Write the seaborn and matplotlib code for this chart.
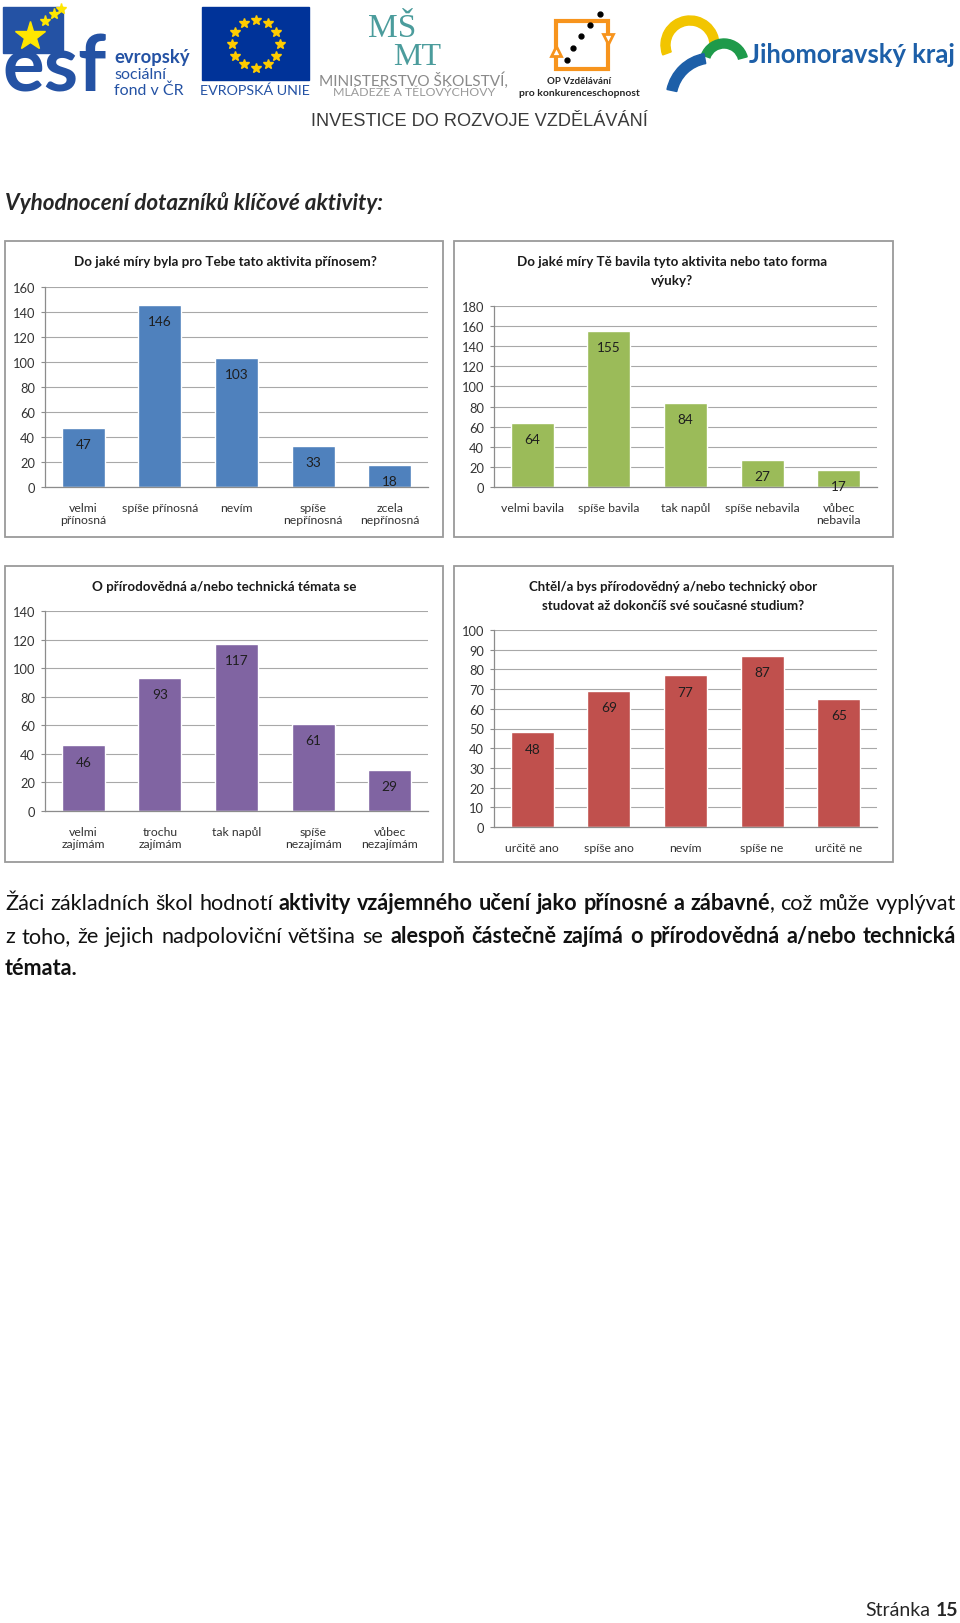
import matplotlib
matplotlib.use("Agg")
import numpy as np
import pandas as pd
import seaborn as sns
import matplotlib.pyplot as plt
from matplotlib.patches import Rectangle, Wedge

# chart data
q1_title = ["Do jaké míry byla pro Tebe tato aktivita přínosem?"]
q1_cats = ["velmi\npřínosná", "spíše přínosná", "nevím", "spíše\nnepřínosná", "zcela\nnepřínosná"]
q1_vals = [47, 146, 103, 33, 18]

q2_title = ["Do jaké míry Tě bavila tyto aktivita nebo tato forma", "výuky?"]
q2_cats = ["velmi bavila", "spíše bavila", "tak napůl", "spíše nebavila", "vůbec\nnebavila"]
q2_vals = [64, 155, 84, 27, 17]

q3_title = ["O přírodovědná a/nebo technická témata se"]
q3_cats = ["velmi\nzajímám", "trochu\nzajímám", "tak napůl", "spíše\nnezajímám", "vůbec\nnezajímám"]
q3_vals = [46, 93, 117, 61, 29]

q4_title = ["Chtěl/a bys přírodovědný a/nebo technický obor", "studovat až dokončíš své současné studium?"]
q4_cats = ["určitě ano", "spíše ano", "nevím", "spíše ne", "určitě ne"]
q4_vals = [48, 69, 77, 87, 65]

# page text
heading = "Vyhodnocení dotazníků klíčové aktivity:"
para_line1 = [("Žáci základních škol hodnotí ", "normal"),
              ("aktivity vzájemného učení jako přínosné a zábavné", "bold"),
              (", což může vyplývat", "normal")]
para_line2 = [("z toho, že jejich nadpoloviční většina se ", "normal"),
              ("alespoň částečně zajímá o přírodovědná a/nebo technická", "bold")]
para_line3 = [("témata.", "bold")]

sns.set_style("white")
plt.rcParams["font.family"] = ["Lato", "DejaVu Sans"]

W, H = 960, 1624
fig = plt.figure(figsize=(W / 100, H / 100), dpi=100)
bg = fig.add_axes([0, 0, 1, 1], zorder=0)
bg.set_xlim(0, W)
bg.set_ylim(H, 0)
bg.axis("off")
renderer = fig.canvas.get_renderer()


def text_width(s, fs, **kw):
    t = bg.text(0, 0, s, fontsize=fs, **kw)
    w = t.get_window_extent(renderer).width
    t.remove()
    return w


def fit(s, x, y, width, **kw):
    # scale font so the text takes the given pixel width
    w = text_width(s, 10, **kw)
    return bg.text(x, y, s, fontsize=10 * width / w, **kw)


def frac(x0, y0, x1, y1):
    return [x0 / W, 1 - y1 / H, (x1 - x0) / W, (y1 - y0) / H]


# ---- header logos (rough) ----
esf_blue = "#2452A4"
bg.add_patch(Rectangle((3, 8), 60, 46, color=esf_blue, zorder=1))
bg.plot([30], [37], marker="*", ms=22, color="#FFE600", zorder=3)
bg.plot([45, 54, 61], [22, 15, 10], ls="none", marker="*", ms=8, color="#FFE600", zorder=3)
fit("esf", 2, 70, 105, fontweight="bold", color=esf_blue, va="center", zorder=2)
fit("evropský", 114, 57, 76, fontweight="bold", color=esf_blue, va="center")
fit("sociální", 114, 75, 52, color=esf_blue, va="center")
fit("fond v ČR", 114, 91, 70, color=esf_blue, va="center")

bg.add_patch(Rectangle((202, 8), 107, 73, color="#003399"))
ang = np.linspace(0, 2 * np.pi, 13)[:-1]
bg.plot(255.5 + 24 * np.cos(ang), 44.5 + 24 * np.sin(ang), ls="none", marker="*", ms=7, color="#FFCC00")
fit("EVROPSKÁ UNIE", 255, 91, 110, color=esf_blue, ha="center", va="center")

teal = "#4B9C9C"
bg.text(368, 37, "MŠ", fontsize=24, family=["Liberation Serif"], color=teal, va="baseline")
bg.text(393, 65, "MT", fontsize=23, family=["Liberation Serif"], color=teal, va="baseline")
fit("MINISTERSTVO ŠKOLSTVÍ,", 413, 81, 187, color="#8A8A8A", ha="center", va="center")
fit("MLÁDEŽE A TĚLOVÝCHOVY", 414, 93, 161, color="#9A9A9A", ha="center", va="center")

bg.add_patch(Rectangle((556, 22), 52, 48, fill=False, ec="#F7941D", lw=3))
bg.plot([556], [52], marker="^", ms=7, mfc="white", mec="#F7941D", mew=2)
bg.plot([608], [40], marker="v", ms=7, mfc="white", mec="#F7941D", mew=2)
bg.plot([567, 573, 581, 590, 600], [61, 49, 37, 26, 15], ls="none", marker="o", ms=3.5, color="black")
fit("OP Vzdělávání", 579, 81, 64, fontweight="bold", ha="center", va="center")
fit("pro konkurenceschopnost", 579, 93, 121, fontweight="bold", ha="center", va="center")

bg.add_patch(Wedge((690, 46), 29, 160, 360, width=9, color="#F2C500"))
bg.add_patch(Wedge((724, 64), 24, -160, -15, width=9, color="#1E9A4A"))
bg.add_patch(Wedge((712, 100), 46, -168, -100, width=10, color="#1D5FA8"))
fit("Jihomoravský kraj", 749, 55, 207, fontweight="bold", color="#1D5FA8", va="center")

fit("INVESTICE DO ROZVOJE VZDĚLÁVÁNÍ", 479, 122, 337, family=["Liberation Sans"],
    color="#3A3A3A", ha="center", va="center")

fit(heading, 5, 203, 378, fontweight="bold", fontstyle="italic", va="center")


# ---- charts ----
def draw_chart(box, area, title_lines, title_y, title_cx, title_w, cats, vals, color, ymax, step):
    bg.add_patch(Rectangle((box[0], box[1]), box[2] - box[0], box[3] - box[1],
                           fill=False, ec="#9A9A9A", lw=1.3))
    w1 = text_width(title_lines[0], 10, fontweight="bold")
    fs = 10 * title_w / w1
    for i, line in enumerate(title_lines):
        bg.text(title_cx, title_y + i * 19, line, fontsize=fs, fontweight="bold",
                color="#1A1A1A", ha="center", va="center")

    ax = fig.add_axes(frac(*area), zorder=2)
    df = pd.DataFrame({"cat": cats, "val": vals})
    sns.barplot(data=df, x="cat", y="val", color=color, saturation=1, width=0.56, ax=ax)
    ax.set_xlim(-0.5, len(cats) - 0.5)
    ax.set_ylim(0, ymax)
    ax.set_yticks(np.arange(0, ymax + 1, step))
    ax.set_xlabel("")
    ax.set_ylabel("")
    ax.grid(axis="y", color="#A8A8A8", lw=0.8)
    ax.set_axisbelow(True)
    for s in ["top", "right"]:
        ax.spines[s].set_visible(False)
    for s in ["left", "bottom"]:
        ax.spines[s].set_color("#8C8C8C")
        ax.spines[s].set_linewidth(0.9)
    ax.tick_params(axis="y", left=True, length=3, width=0.8, color="#8C8C8C",
                   labelsize=9.3, labelcolor="#333333", pad=4)
    ax.tick_params(axis="x", bottom=False, labelsize=8.8, labelcolor="#333333", pad=7)
    ax.patch.set_alpha(0)
    ax.bar_label(ax.containers[0], padding=-16, color="#1E1E1E", fontsize=9.8)
    return ax


draw_chart((5, 242, 443, 538), (45, 288, 428, 488), q1_title, 262, 225, 302,
           q1_cats, q1_vals, "#4F81BD", 160, 20)
draw_chart((454, 242, 893, 538), (494, 307, 877, 488), q2_title, 262, 672, 309,
           q2_cats, q2_vals, "#9BBB59", 180, 20)
draw_chart((5, 567, 443, 863), (45, 612, 428, 812), q3_title, 587, 224, 264,
           q3_cats, q3_vals, "#8064A2", 140, 20)
draw_chart((454, 567, 893, 863), (494, 631, 877, 828), q4_title, 587, 673, 290,
           q4_cats, q4_vals, "#C0504D", 100, 10)


# ---- justified paragraph ----
def to_words(segs):
    words = []
    new = True
    for text, wt in segs:
        parts = text.split(" ")
        for i, p in enumerate(parts):
            if i > 0:
                new = True
            if p:
                if new or not words:
                    words.append([(p, wt)])
                else:
                    words[-1].append((p, wt))
                new = False
    return words


def space_width(fs):
    return text_width("a a", fs) - text_width("aa", fs)


def draw_line(segs, y, x0, x1, fs, justify=True):
    words = to_words(segs)
    widths = [[text_width(p, fs, fontweight=wt) for p, wt in w] for w in words]
    total = sum(sum(w) for w in widths)
    if justify and len(words) > 1:
        gap = (x1 - x0 - total) / (len(words) - 1)
    else:
        gap = space_width(fs)
    x = x0
    for w, ws in zip(words, widths):
        for (p, wt), pw in zip(w, ws):
            bg.text(x, y, p, fontsize=fs, fontweight=wt, color="#111111", va="center")
            x += pw
        x += gap


# pick the largest size at which both full lines fit with normal spaces
base = 14.0
sizes = []
for segs in [para_line1, para_line2]:
    words = to_words(segs)
    tot = sum(text_width(p, base, fontweight=wt) for w in words for p, wt in w)
    need = tot + (len(words) - 1) * space_width(base)
    sizes.append(base * 951 / need)
body_fs = min(sizes)

draw_line(para_line1, 904, 5, 956, body_fs)
draw_line(para_line2, 937, 5, 956, body_fs)
draw_line(para_line3, 969, 5, 956, body_fs, justify=False)

# ---- footer ----
fw = text_width("15", 14, fontweight="bold")
bg.text(958, 1611, "15", fontsize=14, fontweight="bold", ha="right", va="center")
bg.text(958 - fw - 5, 1611, "Stránka", fontsize=14, ha="right", va="center")

fig.savefig("out.png", dpi=100, facecolor="white")
